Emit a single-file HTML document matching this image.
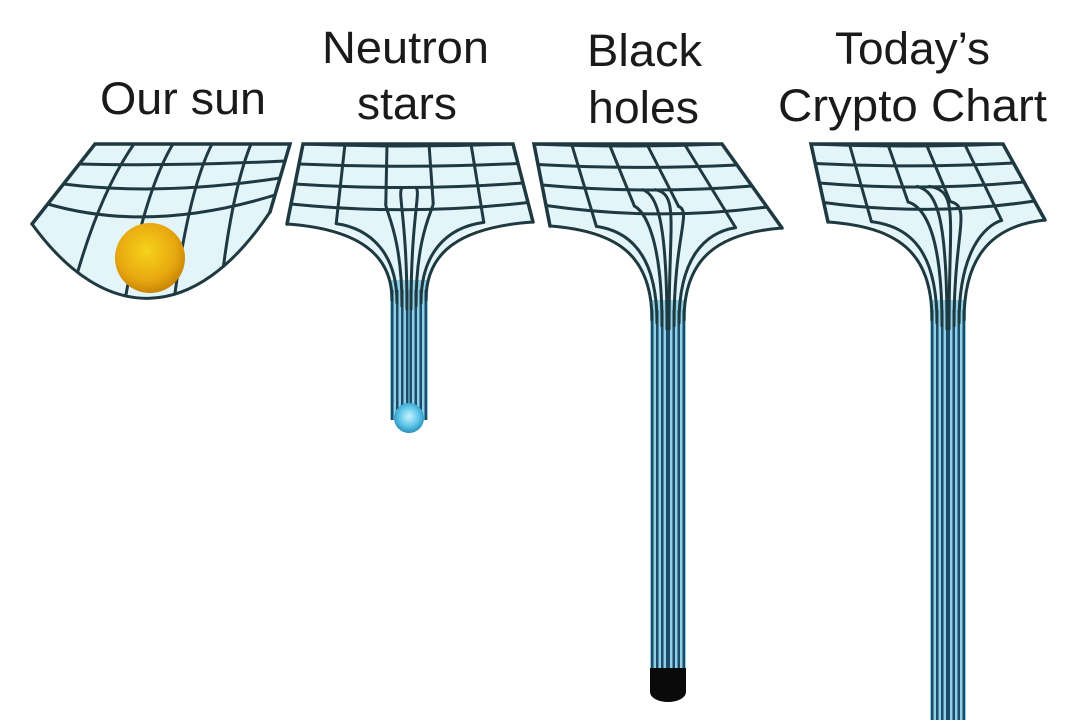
<!DOCTYPE html>
<html><head><meta charset="utf-8">
<style>
html,body{margin:0;padding:0;background:#fff;}
svg{display:block;}
text{font-family:"Liberation Sans",sans-serif;fill:#1a1a1a;font-size:45px;}
</style></head>
<body>
<svg id="s" width="1080" height="720" viewBox="0 0 1080 720" xmlns="http://www.w3.org/2000/svg">
<defs>
<radialGradient id="sun" cx="45%" cy="40%" r="60%">
<stop offset="0" stop-color="#f7d21a"/><stop offset="0.7" stop-color="#e8a810"/><stop offset="1" stop-color="#c98506"/>
</radialGradient>
<radialGradient id="ns" cx="50%" cy="45%" r="55%">
<stop offset="0" stop-color="#c8f2ff"/><stop offset="0.6" stop-color="#5cc6ea"/><stop offset="1" stop-color="#2a8fb8"/>
</radialGradient>
</defs>
<text x="100" y="114" textLength="166" lengthAdjust="spacingAndGlyphs">Our sun</text>
<text x="322" y="63" textLength="167" lengthAdjust="spacingAndGlyphs">Neutron</text>
<text x="357" y="119" textLength="100" lengthAdjust="spacingAndGlyphs">stars</text>
<text x="587" y="66" textLength="115" lengthAdjust="spacingAndGlyphs">Black</text>
<text x="588" y="123" textLength="111" lengthAdjust="spacingAndGlyphs">holes</text>
<text x="835" y="64" textLength="155" lengthAdjust="spacingAndGlyphs">Today’s</text>
<text x="778" y="121" textLength="269" lengthAdjust="spacingAndGlyphs">Crypto Chart</text>
<g id="g"></g>
</svg>
<script>
var NS="http://www.w3.org/2000/svg",G=document.getElementById("g");
function el(t,a){var e=document.createElementNS(NS,t);for(var k in a)e.setAttribute(k,a[k]);G.appendChild(e);return e;}
var LC="#1e3a40",LW=3;
function L(a,b,t){return [a[0]+(b[0]-a[0])*t,a[1]+(b[1]-a[1])*t];}
function pt(P,u,v){return L(L(P.TL,P.TR,u),L(P.BL,P.BR,u),v);}
function line(d,w,c){el("path",{d:d,fill:"none",stroke:c||LC,"stroke-width":w||LW,"stroke-linecap":"round"});}
function bez(p0,p1,p2,p3,t){var s=1-t;return [s*s*s*p0[0]+3*s*s*t*p1[0]+3*s*t*t*p2[0]+t*t*t*p3[0],s*s*s*p0[1]+3*s*s*t*p1[1]+3*s*t*t*p2[1]+t*t*t*p3[1]];}

function tubePanel(P){
  var cx=P.cx,w=P.w,tt=P.tt,yb=P.yb,l=cx-w/2,r=cx+w/2;
  el("path",{d:"M"+P.TL+" L"+P.TR+" L"+P.BR+" C"+(r+40)+","+P.BR[1]+" "+r+","+(P.BR[1]+20)+" "+r+","+tt+" L"+r+","+yb+" L"+l+","+yb+" L"+l+","+tt+" C"+l+","+(P.BL[1]+20)+" "+(l-40)+","+P.BL[1]+" "+P.BL+" Z",fill:"#e4f5f9"});
  el("rect",{x:l,y:tt-20,width:w,height:yb-tt+20,fill:"#8fd0e6"});
  var offs=[0,5,10,15];
  offs.forEach(function(o){el("rect",{x:l+o+1,y:tt-10,width:2.5,height:yb-tt+10,fill:"#1d4a66"});el("rect",{x:r-o-3.5,y:tt-10,width:2.5,height:yb-tt+10,fill:"#1d4a66"});});
  for(var i=0;i<4;i++){var v=i/4,a=pt(P,0,v),b=pt(P,1,v),m=pt(P,.5,v);var dip=P.dip*v*v+2;
    line("M"+a+" Q"+m[0]+","+(m[1]+dip*2)+" "+b);}
  [0,0.2,0.4,0.6,0.8,1].forEach(function(u){var a=pt(P,u,0),b=pt(P,u,u<.3||u>.7?1:0.75);line("M"+a+" L"+b);});
  var starts=[[0,1],[0.2,1],[0.4,0.75],[0.47,0.55]];
  starts.forEach(function(s,k){
    var sL=pt(P,s[0],s[1]),x=l+2+k*5,yy=tt+k*3;
    line("M"+sL+" C"+(x-10-(3-k)*8)+","+(sL[1]+5)+" "+x+","+(sL[1]+30)+" "+x+","+yy);
    var sR=pt(P,1-s[0],s[1]),xr=r-2-k*5;
    line("M"+sR+" C"+(xr+10+(3-k)*8)+","+(sR[1]+5)+" "+xr+","+(sR[1]+30)+" "+xr+","+yy);
  });
  line("M"+P.BL+" L"+P.TL+" L"+P.TR+" L"+P.BR,3.5);
}
(function(){
  var P={TL:[95,144],TR:[290,144],BL:[32,224],BR:[270,212]};
  var A=[32,224],B=[105,325],C=[195,325],D=[270,212];
  var cs="C"+B+" "+C+" "+D;
  el("path",{d:"M95,144 L290,144 L270,212 C195,325 105,325 32,224 Z",fill:"#e4f5f9"});
  for(var i=1;i<4;i++){var v=i/4,a=pt(P,0,v),b=pt(P,1,v),m=pt(P,.45,v);line("M"+a+" Q"+m[0]+","+(m[1]+v*v*60)+" "+b);}
  line("M32,224 "+cs);
  [0.2,0.4,0.6,0.8].forEach(function(u){var a=pt(P,u,0),b=bez(A,B,C,D,u);var m=pt(P,u,0.6);line("M"+a+" Q"+m[0]+","+m[1]+" "+b);});
  line("M32,224 L95,144 L290,144 L270,212",3.5);
  el("circle",{cx:150,cy:258,r:35,fill:"url(#sun)"});
})();
tubePanel({TL:[303,144],TR:[513,144],BL:[287,224],BR:[533,222],cx:409,w:38,tt:300,yb:420,dip:8});
el("circle",{cx:409,cy:418,r:15,fill:"url(#ns)"});
tubePanel({TL:[534,144],TR:[722,144],BL:[550,226],BR:[782,228],cx:668,w:36,tt:320,yb:690,dip:10});
el("rect",{x:650,y:668,width:36,height:24,fill:"#0a0a0a"});
el("ellipse",{cx:668,cy:692,rx:18,ry:10,fill:"#0a0a0a"});
tubePanel({TL:[811,144],TR:[1003,144],BL:[828,222],BR:[1045,220],cx:948,w:36,tt:320,yb:720,dip:10});
</script>
</body></html>
